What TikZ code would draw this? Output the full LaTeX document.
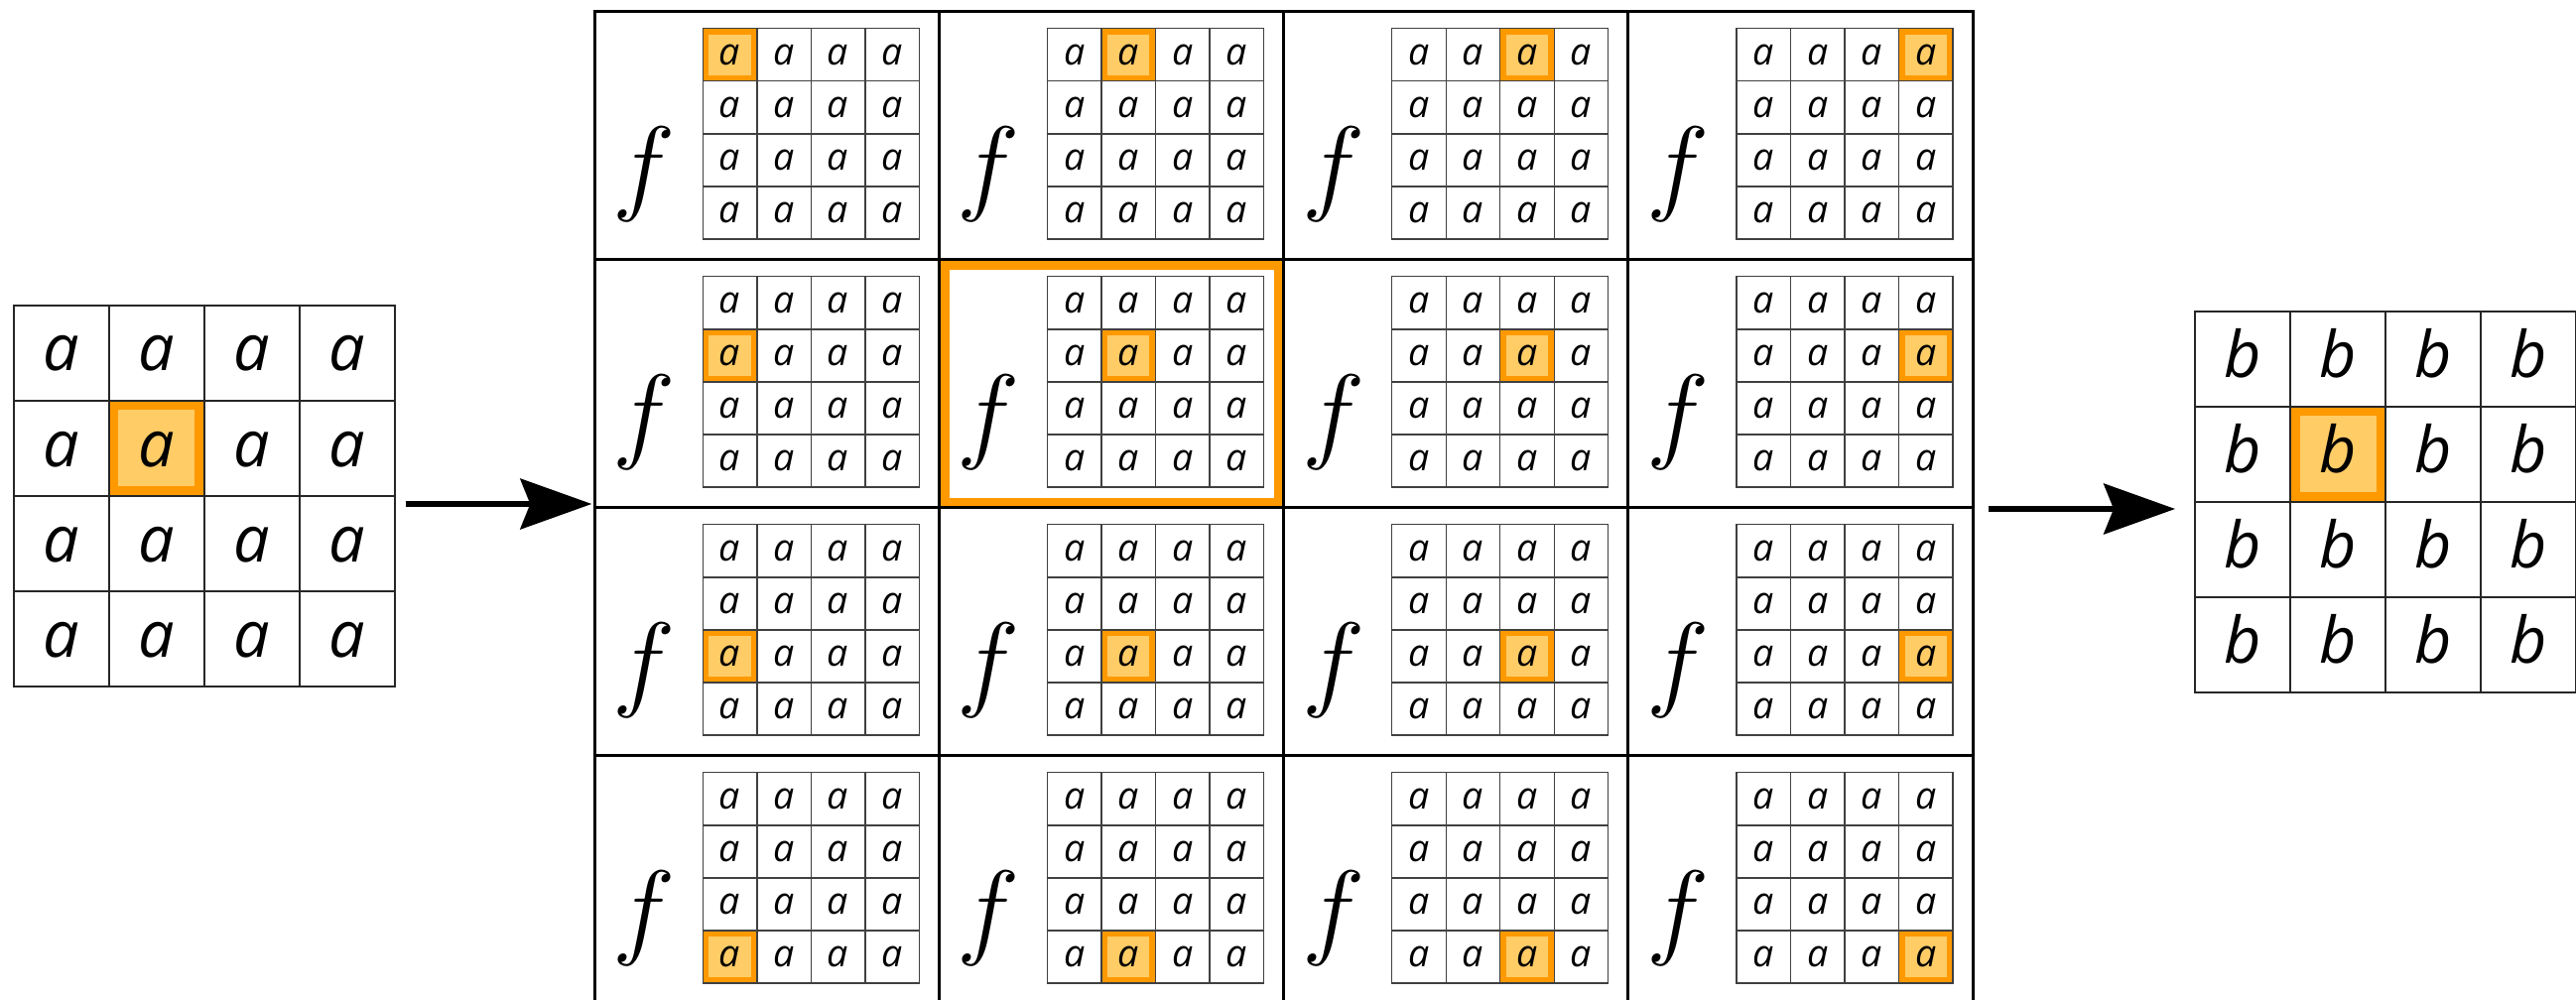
\RequirePackage{fix-cm}
\documentclass[tikz,border=0pt]{standalone}
\usepackage{fontspec}
\newfontfamily\cellfont{Open Sans}
\usepackage{xcolor}
\usepackage{tikz}
\usetikzlibrary{arrows.meta,backgrounds}
\definecolor{hlline}{HTML}{FF9900}
\definecolor{hlfill}{HTML}{FFCC66}
\newcommand{\bigletter}{\fontsize{18.4}{20}\selectfont\cellfont\itshape}
\newcommand{\smallletter}{\fontsize{10.7}{12}\selectfont\cellfont\itshape}

\begin{document}
\begin{tikzpicture}[
  bigcell/.style={rectangle, draw=black!85, line width=0.6pt, minimum width=0.96cm,
                  minimum height=0.96cm, inner sep=0pt, outer sep=0pt,
                  font=\bigletter, text height=0.366cm, text depth=0pt},
  maincell/.style={rectangle, draw, line width=0.85pt, minimum width=3.472cm,
                   minimum height=2.5cm, inner sep=0pt, outer sep=0pt},
  subcell/.style={rectangle, draw=black!75, line width=0.4pt, minimum width=0.545cm,
                  minimum height=0.531cm, inner sep=0pt, outer sep=0pt,
                  font=\smallletter, text height=0.208cm, text depth=0pt},
  fsym/.style={font=\fontsize{30.5}{36}\selectfont, inner sep=0pt},
  hlbig/.style={draw=hlline, fill=hlfill, line width=2.42pt},
  hlsmall/.style={draw=hlline, fill=hlfill, line width=1.56pt},
  hlmain/.style={draw=hlline, line width=2.47pt},
  arr/.style={-{Stealth[length=7.2mm, width=5.1mm, inset=1mm]}, line width=1.45pt}
]
\useasboundingbox (0,0) rectangle (25.96,-10.08);
\clip (0,0) rectangle (25.96,-10.08);

% Input grid
\foreach \r in {1,...,4}
  \foreach \c in {1,...,4}
    \node[bigcell] (in-\r-\c) at ({0.137+(\c-0.5)*0.96},{-3.077-(\r-0.5)*0.96}) {a};

% Main grid, one f-window per cell
\foreach \R in {1,...,4}
  \foreach \C in {1,...,4} {
    \node[maincell] (m-\R-\C) at ({5.993+(\C-0.5)*3.472},{-0.117-(\R-0.5)*2.5}) {};
    \node[fsym] (f-\R-\C) at ([shift={(0.50,-1.64)}]m-\R-\C.north west) {$f$};
    \foreach \r in {1,...,4}
      \foreach \c in {1,...,4}
        \node[subcell] (s-\R-\C-\r-\c)
          at ([shift={({1.09+(\c-0.5)*0.545},{-0.17-(\r-0.5)*0.531})}]m-\R-\C.north west) {a};
  }

% Output grid
\foreach \r in {1,...,4}
  \foreach \c in {1,...,4}
    \node[bigcell] (out-\r-\c) at ({22.12+(\c-0.5)*0.96},{-3.137-(\r-0.5)*0.96}) {b};

% Highlights
\begin{scope}[on background layer]
  \draw[hlbig] ([shift={(0.0525,0.0525)}]in-2-2.south west) rectangle ([shift={(-0.0525,-0.0525)}]in-2-2.north east);
  \draw[hlbig] ([shift={(0.0525,0.0525)}]out-2-2.south west) rectangle ([shift={(-0.0525,-0.0525)}]out-2-2.north east);
  \draw[hlmain] ([shift={(0.0585,0.0585)}]m-2-2.south west) rectangle ([shift={(-0.0585,-0.0585)}]m-2-2.north east);
  \foreach \R in {1,...,4}
    \foreach \C in {1,...,4}
      \draw[hlsmall] ([shift={(0.034,0.034)}]s-\R-\C-\R-\C.south west) rectangle ([shift={(-0.034,-0.034)}]s-\R-\C-\R-\C.north east);
\end{scope}

% Arrows
\coordinate (a1) at ([shift={(0.11,-0.083)}]in-2-4.south east);
\draw[arr] (a1) -- ([xshift=-0.3mm]a1 -| m-2-1.west);
\coordinate (a2) at ([shift={(0.155,-0.013)}]m-2-4.south east);
\draw[arr] (a2) -- ([xshift=-2mm]a2 -| out-2-1.west);
\end{tikzpicture}
\end{document}
